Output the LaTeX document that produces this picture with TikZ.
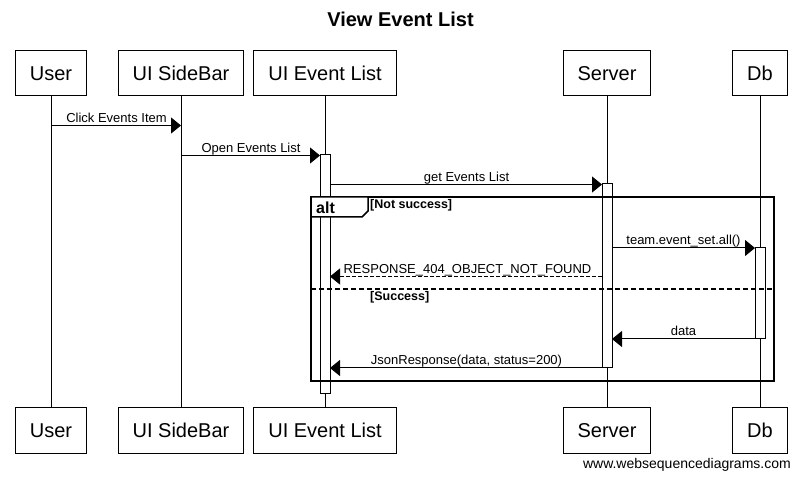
\documentclass[tikz,border=0pt]{standalone}
\usepackage{fontspec}
\setmainfont{Liberation Sans}
\usetikzlibrary{arrows.meta}
\begin{document}
\begin{tikzpicture}[x=1pt,y=-1pt,
  actor/.style={draw,line width=1pt,fill=white,font=\fontsize{20}{22}\selectfont,inner xsep=14.5pt,inner ysep=0pt,minimum height=45pt,anchor=center},
  life/.style={line width=1pt},
  actbox/.style={draw,line width=1pt,fill=white},
  msg/.style={line width=1pt,-{Triangle[length=10pt,width=16pt]}},
  ret/.style={msg,dash pattern=on 4pt off 2pt},
  mlabel/.style={font=\fontsize{13}{15}\selectfont,anchor=base,inner sep=0pt},
  guard/.style={font=\bfseries\fontsize{12.5}{14}\selectfont,anchor=west,inner sep=0pt}
]
\useasboundingbox (0,0) rectangle (801,478);
\fill[white] (0,0) rectangle (801,478);

\node[font=\bfseries\fontsize{20}{22}\selectfont,anchor=base,inner sep=0pt] (title) at (400.5,27) {View Event List};

% participants
\node[actor] (u1) at (51,73.5) {User};
\node[actor] (s1) at (181,73.5) {UI SideBar};
\node[actor] (e1) at (325,73.5) {UI Event List};
\node[actor] (v1) at (607,73.5) {Server};
\node[actor] (d1) at (760,73.5) {Db};
\node[actor] (u2) at (51,430.5) {User};
\node[actor] (s2) at (181,430.5) {UI SideBar};
\node[actor] (e2) at (325,430.5) {UI Event List};
\node[actor] (v2) at (607,430.5) {Server};
\node[actor] (d2) at (760,430.5) {Db};

% lifelines
\draw[life] (u1) -- (u2);
\draw[life] (s1) -- (s2);
\draw[life] (e1) -- (e2);
\draw[life] (v1) -- (v2);
\draw[life] (d1) -- (d2);

% activations
\node[actbox,minimum width=10pt,minimum height=239pt,inner sep=0pt] (ea) at (325,274.5) {};
\node[actbox,minimum width=10pt,minimum height=184pt,inner sep=0pt] (va) at (607,276) {};
\node[actbox,minimum width=10pt,minimum height=91pt,inner sep=0pt] (da) at (760,293.5) {};

% alt frame
\draw[line width=2pt] (311,197) rectangle (774,381);
\draw[line width=1.5pt,fill=white] (311,197) -- (368,197) -- (368,211) -- (362,217) -- (311,217) -- cycle;
\node[font=\bfseries\fontsize{16}{18}\selectfont,anchor=west,inner sep=0pt] (alt) at (316,207.5) {alt};
\node[guard] (g1) at (370,205.5) {[Not success]};
\draw[line width=2pt,dash pattern=on 5pt off 3pt] (311,289.5) -- (774,289.5);
\node[guard] (g2) at (370,297.5) {[Success]};

% coordinates for message ends
\coordinate (m1a) at (51,125.5);   \coordinate (m1b) at (181,125.5);
\coordinate (m2a) at (181,155.5);  \coordinate (m2b) at (320,155.5);
\coordinate (m3a) at (330,184.5);  \coordinate (m3b) at (602,184.5);
\coordinate (m4a) at (612,248);    \coordinate (m4b) at (755,248);
\coordinate (m5a) at (602,276.5);  \coordinate (m5b) at (330,276.5);
\coordinate (m6a) at (755,339);    \coordinate (m6b) at (612,339);
\coordinate (m7a) at (602,368);    \coordinate (m7b) at (330,368);

\draw[msg] (m1a) -- (m1b);
\node[mlabel] (l1) at (116.5,122.5) {Click Events Item};
\draw[msg] (m2a) -- (m2b);
\node[mlabel] (l2) at (251,152.5) {Open Events List};
\draw[msg] (m3a) -- (m3b);
\node[mlabel] (l3) at (466.5,181.5) {get Events List};
\draw[msg] (m4a) -- (m4b);
\node[mlabel] (l4) at (683.5,245) {team.event\_set.all()};
\draw[ret] (m5a) -- (m5b);
\node[mlabel] (l5) at (467.5,273.5) {RESPONSE\_404\_OBJECT\_NOT\_FOUND};
\draw[msg] (m6a) -- (m6b);
\node[mlabel] (l6) at (683.5,336) {data};
\draw[msg] (m7a) -- (m7b);
\node[mlabel] (l7) at (466.5,365) {JsonResponse(data, status=200)};

\node[font=\fontsize{14}{16}\selectfont,anchor=base east,inner sep=0pt] (wm) at (791,468) {www.websequencediagrams.com};
\end{tikzpicture}
\end{document}
